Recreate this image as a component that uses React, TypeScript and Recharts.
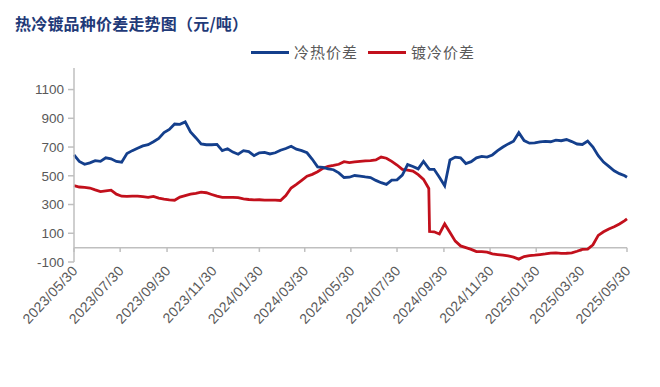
import React from 'react';
import { LineChart, Line, XAxis, YAxis, ReferenceLine } from 'recharts';

const titleText = '热冷镀品种价差走势图（元/吨）';
const seriesNames = ['冷热价差', '镀冷价差'];
const seriesColors = ['#143F8C', '#C2101C'];

const dates = [
  '2023-05-30','2023-06-06','2023-06-13','2023-06-20','2023-06-27','2023-07-04','2023-07-11','2023-07-18','2023-07-25','2023-08-01',
  '2023-08-08','2023-08-15','2023-08-22','2023-08-29','2023-09-05','2023-09-12','2023-09-19','2023-09-26','2023-10-03','2023-10-10',
  '2023-10-17','2023-10-24','2023-10-31','2023-11-07','2023-11-14','2023-11-21','2023-11-28','2023-12-05','2023-12-12','2023-12-19',
  '2023-12-26','2024-01-02','2024-01-09','2024-01-16','2024-01-23','2024-01-30','2024-02-06','2024-02-13','2024-02-20','2024-02-27',
  '2024-03-05','2024-03-12','2024-03-19','2024-03-26','2024-04-02','2024-04-09','2024-04-16','2024-04-23','2024-04-30','2024-05-07',
  '2024-05-14','2024-05-21','2024-05-28','2024-06-04','2024-06-11','2024-06-18','2024-06-25','2024-07-02','2024-07-09','2024-07-16',
  '2024-07-23','2024-07-30','2024-08-06','2024-08-13','2024-08-20','2024-08-27','2024-09-03','2024-09-10','2024-09-11',
  '2024-09-17','2024-09-24','2024-10-01','2024-10-08','2024-10-15','2024-10-22','2024-10-29','2024-11-05','2024-11-12','2024-11-19',
  '2024-11-26','2024-12-03','2024-12-10','2024-12-17','2024-12-24','2024-12-31','2025-01-07','2025-01-14','2025-01-21','2025-01-28',
  '2025-02-04','2025-02-11','2025-02-18','2025-02-25','2025-03-04','2025-03-11','2025-03-18','2025-03-25','2025-04-01','2025-04-08',
  '2025-04-15','2025-04-22','2025-04-29','2025-05-06','2025-05-13','2025-05-20','2025-05-27','2025-05-30'
];

const coldHotSpread = [
  645,600,580,590,605,600,625,618,600,595,
  655,675,692,708,716,737,760,800,822,860,
  858,875,805,765,722,716,716,718,675,688,
  665,650,675,668,640,660,663,652,660,678,
  690,705,685,675,660,615,562,559,548,542,
  520,488,490,502,498,492,488,468,452,440,
  470,472,505,578,565,548,600,550,545,
  545,490,430,610,630,625,585,598,625,635,
  630,645,675,700,722,740,800,745,727,729,
  736,740,737,748,744,752,738,721,718,742,
  700,640,595,565,535,515,500,490
];

const galvColdSpread = [
  432,422,420,415,402,390,395,400,372,358,
  357,358,358,355,350,357,345,338,332,330,
  352,362,372,378,386,382,370,358,350,350,
  350,348,340,335,332,333,331,331,331,328,
  362,415,440,468,497,510,528,552,565,572,
  580,598,592,596,600,604,605,610,630,622,
  600,575,545,540,532,508,475,412,112,
  110,95,165,105,45,12,0,-12,-28,-28,
  -32,-44,-48,-52,-58,-66,-80,-62,-55,-52,
  -48,-44,-38,-37,-40,-39,-36,-25,-12,-10,
  20,85,110,130,145,165,188,200
];

const xTickLabels = [
  '2023/05/30','2023/07/30','2023/09/30','2023/11/30','2024/01/30','2024/03/30','2024/05/30',
  '2024/07/30','2024/09/30','2024/11/30','2025/01/30','2025/03/30','2025/05/30'
];
const yTicks = [-100, 100, 300, 500, 700, 900, 1100];
const yDomain = [-100, 1250];

const toTime = (s: string) => Date.parse(s.replace(/\//g, '-'));
const xTicks = xTickLabels.map(toTime);

const data = dates.map((d, i) => ({
  t: toTime(d),
  coldHot: coldHotSpread[i],
  galvCold: galvColdSpread[i],
}));

const fmtDate = (v: number) => {
  const d = new Date(v);
  const m = String(d.getUTCMonth() + 1).padStart(2, '0');
  const day = String(d.getUTCDate()).padStart(2, '0');
  return `${d.getUTCFullYear()}/${m}/${day}`;
};

const axisFont = '"Liberation Sans", Arial, sans-serif';
const cjkFont = '"Noto Sans CJK SC", sans-serif';

const XTick = (props: any) => {
  const { x, y, payload } = props;
  return (
    <text
      x={x + 1}
      y={y}
      dy="0.35em"
      transform={`rotate(-47 ${x + 1} ${y})`}
      textAnchor="end"
      fontSize={14}
      letterSpacing={0.3}
      fontFamily={axisFont}
      fill="#595959"
    >
      {fmtDate(payload.value)}
    </text>
  );
};

export default function App() {
  return (
    <div style={{ position: 'absolute', left: 0, top: 0, width: 660, height: 387, background: '#fff' }}>
      <div
        style={{
          position: 'absolute', left: 15, top: 12, fontFamily: cjkFont, fontWeight: 700,
          fontSize: 16, color: '#1F3A78', whiteSpace: 'nowrap', lineHeight: '22px', letterSpacing: 0.2,
        }}
      >
        {titleText}
      </div>
      <div style={{ position: 'absolute', left: 251, top: 41, display: 'flex', alignItems: 'center', fontFamily: cjkFont, fontSize: 15, color: '#595959', lineHeight: '22px' }}>
        {seriesNames.map((n, i) => (
          <div key={n} style={{ display: 'flex', alignItems: 'center', marginRight: 10 }}>
            <div style={{ width: 38, height: 3, background: seriesColors[i], marginRight: 5 }} />
            <span style={{ letterSpacing: 1 }}>{n}</span>
          </div>
        ))}
      </div>
      <LineChart
        width={660}
        height={387}
        data={data}
        margin={{ top: 68, right: 33, bottom: 25, left: 14 }}
        style={{ position: 'absolute', left: 0, top: 0 }}
      >
        <XAxis
          dataKey="t"
          type="number"
          domain={[xTicks[0], xTicks[xTicks.length - 1]]}
          ticks={xTicks}
          height={100}
          axisLine={false}
          tickLine={false}
          tickSize={0}
          tickMargin={6}
          interval={0}
          tick={<XTick />}
        />
        <YAxis
          type="number"
          domain={yDomain}
          ticks={yTicks}
          width={60}
          interval={0}
          axisLine={{ stroke: '#BFBFBF', strokeWidth: 1.5 }}
          tickLine={{ stroke: '#BFBFBF', strokeWidth: 1.5 }}
          tickSize={6}
          tickMargin={4}
          tick={{ fontSize: 13.5, fill: '#595959', fontFamily: axisFont }}
          allowDataOverflow
        />
        <ReferenceLine y={0} stroke="#BFBFBF" strokeWidth={1.5} />
        {xTicks.map((t) => (
          <ReferenceLine
            key={t}
            segment={[{ x: t, y: 0 }, { x: t, y: -30 }]}
            stroke="#BFBFBF"
            strokeWidth={1.5}
          />
        ))}
        <Line
          type="linear"
          dataKey="galvCold"
          stroke={seriesColors[1]}
          strokeWidth={2.8}
          dot={false}
          isAnimationActive={false}
        />
        <Line
          type="linear"
          dataKey="coldHot"
          stroke={seriesColors[0]}
          strokeWidth={2.8}
          dot={false}
          isAnimationActive={false}
        />
      </LineChart>
    </div>
  );
}
